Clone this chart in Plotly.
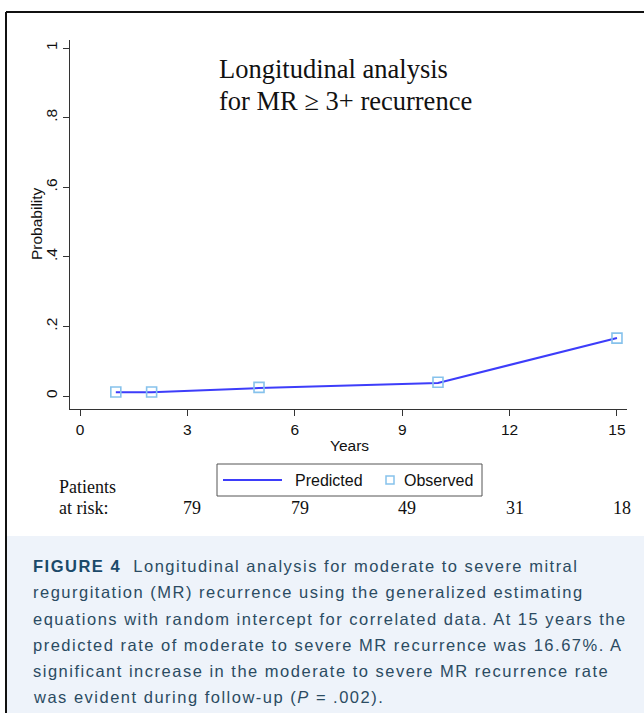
import plotly.graph_objects as go

# ---- data ----
years = [1, 2, 5, 10, 15]
predicted = [0.011, 0.011, 0.023, 0.038, 0.1667]
observed = [0.012, 0.012, 0.025, 0.040, 0.1667]
series_names = ["Predicted", "Observed"]
x_ticks = [0, 3, 6, 9, 12, 15]
y_ticks = [0, 0.2, 0.4, 0.6, 0.8, 1]
y_ticklabels = ["0", ".2", ".4", ".6", ".8", "1"]
risk_years = [3, 6, 9, 12, 15]
risk_counts = [79, 79, 49, 31, 18]
caption_lines = [
    "<b><span style='color:#1b4a6a'>FIGURE 4</span></b>  Longitudinal analysis for moderate to severe mitral",
    "regurgitation (MR) recurrence using the generalized estimating",
    "equations with random intercept for correlated data. At 15 years the",
    "predicted rate of moderate to severe MR recurrence was 16.67%. A",
    "significant increase in the moderate to severe MR recurrence rate",
    "was evident during follow-up (<i>P</i> = .002).",
]

W, H = 644, 713
SANS = "Arial, Liberation Sans, sans-serif"
SERIF = "Times New Roman, Liberation Serif, serif"
LINE_COLOR = "#3d3dfa"
MARKER_COLOR = "#86c2ec"


def px(x):
    return x / W


def py(y):
    return 1 - y / H


fig = go.Figure()
fig.add_trace(go.Scatter(
    x=years, y=predicted, mode="lines", name=series_names[0],
    line=dict(color=LINE_COLOR, width=2), cliponaxis=False,
))
fig.add_trace(go.Scatter(
    x=years, y=observed, mode="markers", name=series_names[1],
    marker=dict(symbol="square-open", size=10, color=MARKER_COLOR,
                line=dict(width=1.6, color=MARKER_COLOR)),
    cliponaxis=False,
))

x0_px, x1_px = 70, 627
y_top_px, y_bot_px = 40, 409
fig.update_layout(
    width=W, height=H, autosize=False,
    margin=dict(l=0, r=0, t=0, b=0),
    paper_bgcolor="white", plot_bgcolor="white",
    font=dict(family=SANS, color="#111111"),
    xaxis=dict(
        domain=[px(x0_px), px(x1_px)],
        range=[-0.28, 15.28], tickvals=x_ticks,
        showgrid=False, zeroline=False, showline=True,
        linecolor="#333333", linewidth=1.3,
        ticks="outside", ticklen=6, tickcolor="#333333", tickwidth=1.3,
        tickfont=dict(size=15.5, family=SANS, color="#111111"),
        anchor="y",
    ),
    yaxis=dict(
        domain=[py(y_bot_px), py(y_top_px)],
        range=[-0.037, 1.023], tickvals=y_ticks, ticktext=y_ticklabels,
        tickangle=-90,
        showgrid=False, zeroline=False, showline=True,
        linecolor="#333333", linewidth=1.3,
        ticks="outside", ticklen=6, tickcolor="#333333", tickwidth=1.3,
        tickfont=dict(size=15.5, family=SANS, color="#111111"),
        anchor="x",
    ),
    showlegend=False,
)

anns = []
# Title
anns.append(dict(x=px(217), y=py(69), xref="paper", yref="paper",
                 text="Longitudinal analysis", showarrow=False,
                 xanchor="left", yanchor="middle",
                 font=dict(family=SERIF, size=26.5, color="#111111")))
anns.append(dict(x=px(217), y=py(101), xref="paper", yref="paper",
                 text="for MR \u2265 3+ recurrence", showarrow=False,
                 xanchor="left", yanchor="middle",
                 font=dict(family=SERIF, size=26.5, color="#111111")))
# Axis titles
anns.append(dict(x=px(36), y=py(224), xref="paper", yref="paper",
                 text="Probability", showarrow=False, textangle=-90,
                 xanchor="center", yanchor="middle",
                 font=dict(family=SANS, size=15.5, color="#111111")))
anns.append(dict(x=px(349), y=py(445), xref="paper", yref="paper",
                 text="Years", showarrow=False,
                 xanchor="center", yanchor="middle",
                 font=dict(family=SANS, size=15.5, color="#111111")))
# Legend (Stata-style box below the axis)
anns.append(dict(x=px(293), y=py(480), xref="paper", yref="paper",
                 text=series_names[0], showarrow=False,
                 xanchor="left", yanchor="middle",
                 font=dict(family=SANS, size=16, color="#111111")))
anns.append(dict(x=px(402), y=py(480), xref="paper", yref="paper",
                 text=series_names[1], showarrow=False,
                 xanchor="left", yanchor="middle",
                 font=dict(family=SANS, size=16, color="#111111")))
# Patients at risk
anns.append(dict(x=px(57), y=py(487), xref="paper", yref="paper",
                 text="Patients", showarrow=False,
                 xanchor="left", yanchor="middle",
                 font=dict(family=SERIF, size=18, color="#111111")))
anns.append(dict(x=px(57), y=py(508), xref="paper", yref="paper",
                 text="at risk:", showarrow=False,
                 xanchor="left", yanchor="middle",
                 font=dict(family=SERIF, size=18, color="#111111")))
for yr, n in zip(risk_years, risk_counts):
    anns.append(dict(x=yr, y=py(508), xref="x", yref="paper",
                     text=str(n), showarrow=False, xshift=5,
                     xanchor="center", yanchor="middle",
                     font=dict(family=SERIF, size=18, color="#111111")))
# Caption
cap_y = [566, 592, 619, 645, 671, 697]
for line, yy in zip(caption_lines, cap_y):
    anns.append(dict(x=px(31), y=py(yy), xref="paper", yref="paper",
                     text="<span style='letter-spacing:1.5px'>" + line + "</span>",
                     showarrow=False,
                     xanchor="left", yanchor="middle",
                     font=dict(family=SANS, size=16.5, color="#2b4b62")))
fig.update_layout(annotations=anns)

shapes = [
    # caption panel
    dict(type="rect", xref="paper", yref="paper",
         x0=px(7), x1=1, y0=0, y1=py(536),
         fillcolor="#eef3fa", line=dict(width=0), layer="below"),
    # frame
    dict(type="line", xref="paper", yref="paper",
         x0=px(6), x1=px(6), y0=0, y1=py(12),
         line=dict(color="#111111", width=2)),
    dict(type="line", xref="paper", yref="paper",
         x0=px(6), x1=1, y0=py(12), y1=py(12),
         line=dict(color="#111111", width=2)),
    # legend box and keys
    dict(type="rect", xref="paper", yref="paper",
         x0=px(217), x1=px(482), y0=py(496), y1=py(464),
         fillcolor="white", line=dict(color="#555555", width=1)),
    dict(type="line", xref="paper", yref="paper",
         x0=px(223), x1=px(282), y0=py(480), y1=py(480),
         line=dict(color=LINE_COLOR, width=2)),
    dict(type="rect", xref="paper", yref="paper",
         x0=px(386), x1=px(394), y0=py(484), y1=py(476),
         fillcolor="rgba(0,0,0,0)", line=dict(color=MARKER_COLOR, width=1.5)),
]
fig.update_layout(shapes=shapes)

fig.write_html(
    "out.html",
    config={"responsive": False, "displayModeBar": False},
    post_script="document.body.style.margin='0';document.body.style.overflow='hidden';",
)
